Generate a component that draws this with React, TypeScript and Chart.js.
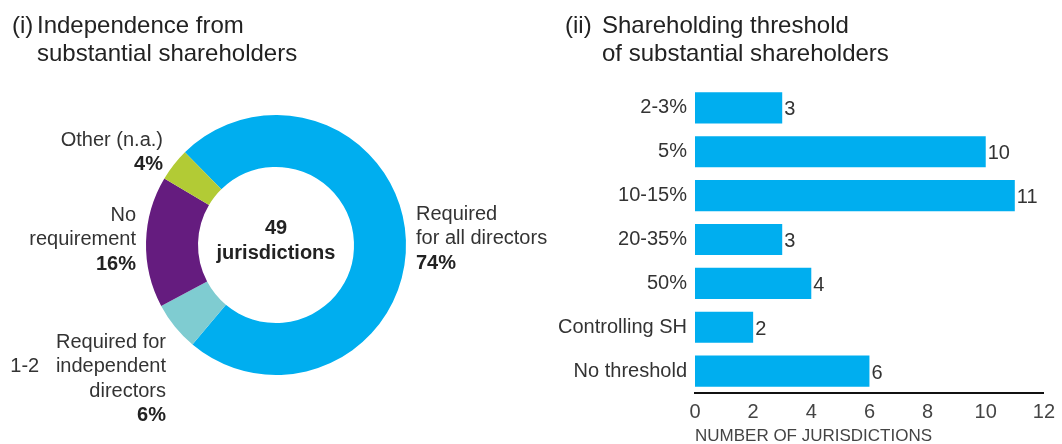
import React, { useEffect, useRef } from "react";
import { Chart, registerables } from "chart.js";

Chart.register(...registerables);

// ---------- data ----------
const donutCategories = [
  "Required for all directors",
  "Required for 1-2 independent directors",
  "No requirement",
  "Other (n.a.)",
];
const donutCounts = [36, 3, 8, 2];
const donutPercents = ["74%", "6%", "16%", "4%"];
const donutLabelLines = [
  ["Required", "for all directors"],
  ["Required for", "1-2   independent", "directors"],
  ["No", "requirement"],
  ["Other (n.a.)"],
];
const donutCenterText = ["49", "jurisdictions"];
const leftTitle = ["(i)", "Independence from", "substantial shareholders"];

const barCategories = ["2-3%", "5%", "10-15%", "20-35%", "50%", "Controlling SH", "No threshold"];
const barValues = [3, 10, 11, 3, 4, 2, 6];
const xAxisTitle = "NUMBER OF JURISDICTIONS";
const rightTitle = ["(ii)", "Shareholding threshold", "of substantial shareholders"];

// ---------- styles ----------
const FONT = "'Liberation Sans', Arial, Helvetica, sans-serif";
const TEXT = "#333333";
const TITLE = "#222222";
const BLUE = "#00AEEF";
const donutColors = [BLUE, "#7FCCD1", "#651C7F", "#B2CB35"];

const LEFT_W = 552;
const RIGHT_W = 510;
const H = 444;

function drawTitle(ctx: CanvasRenderingContext2D, lines: string[], x0: number, x1: number) {
  ctx.save();
  ctx.font = `24px ${FONT}`;
  ctx.fillStyle = TITLE;
  ctx.textAlign = "left";
  ctx.textBaseline = "middle";
  ctx.fillText(lines[0], x0, 26);
  ctx.fillText(lines[1], x1, 26);
  ctx.fillText(lines[2], x1, 54);
  ctx.restore();
}

const donutLabelPlugin = {
  id: "donutLabels",
  afterDraw(chart: any) {
    const ctx = chart.ctx as CanvasRenderingContext2D;
    const arc = chart.getDatasetMeta(0).data[0];
    if (!arc) return;
    const cx = arc.x;
    const cy = arc.y;
    const r = arc.outerRadius;
    // anchors: [x, firstLineY, align]
    const anchors: [number, number, CanvasTextAlign][] = [
      [cx + r + 10, cy - 31, "left"],
      [cx - r + 20, cy + 97, "right"],
      [cx - r - 10, cy - 30, "right"],
      [cx - r + 17, cy - 105, "right"],
    ];
    const step = 24.5;
    ctx.save();
    ctx.textBaseline = "middle";
    anchors.forEach(([x, y0, align], i) => {
      ctx.textAlign = align;
      ctx.fillStyle = TEXT;
      ctx.font = `20px ${FONT}`;
      const lines = donutLabelLines[i];
      lines.forEach((ln, k) => ctx.fillText(ln, x, y0 + k * step));
      ctx.font = `bold 20px ${FONT}`;
      ctx.fillStyle = "#222222";
      ctx.fillText(donutPercents[i], x, y0 + lines.length * step);
    });
    // center
    ctx.textAlign = "center";
    ctx.font = `bold 20px ${FONT}`;
    ctx.fillStyle = "#222222";
    ctx.fillText(donutCenterText[0], cx, cy - 17);
    ctx.fillText(donutCenterText[1], cx, cy + 8);
    drawTitle(ctx, leftTitle, 12, 37);
    ctx.restore();
  },
};

const barLabelPlugin = {
  id: "barLabels",
  afterDatasetsDraw(chart: any) {
    const ctx = chart.ctx as CanvasRenderingContext2D;
    const meta = chart.getDatasetMeta(0);
    ctx.save();
    ctx.font = `20px ${FONT}`;
    ctx.fillStyle = TEXT;
    ctx.textAlign = "left";
    ctx.textBaseline = "middle";
    meta.data.forEach((bar: any, i: number) => {
      ctx.fillText(String(barValues[i]), bar.x + 2, bar.y + 2);
    });
    drawTitle(ctx, rightTitle, 13, 50);
    ctx.restore();
  },
};

export default function App() {
  const leftRef = useRef<HTMLCanvasElement>(null);
  const rightRef = useRef<HTMLCanvasElement>(null);

  useEffect(() => {
    document.body.style.margin = "0";
    const left = new Chart(leftRef.current!, {
      type: "doughnut",
      data: {
        labels: donutCategories,
        datasets: [
          {
            data: donutCounts,
            backgroundColor: donutColors,
            borderWidth: 0,
          },
        ],
      },
      options: {
        responsive: false,
        animation: false,
        cutout: "60%",
        rotation: -44.5,
        layout: { padding: { left: 146, right: 146, top: 115, bottom: 69 } },
        plugins: { legend: { display: false }, tooltip: { enabled: false } },
      },
      plugins: [donutLabelPlugin],
    });

    const right = new Chart(rightRef.current!, {
      type: "bar",
      data: {
        labels: barCategories,
        datasets: [
          {
            data: barValues,
            backgroundColor: BLUE,
            borderWidth: 0,
            categoryPercentage: 1,
            barPercentage: 0.71,
          },
        ],
      },
      options: {
        indexAxis: "y",
        responsive: false,
        animation: false,
        layout: { padding: { left: 0, right: 14, top: 86, bottom: 0 } },
        plugins: { legend: { display: false }, tooltip: { enabled: false } },
        scales: {
          x: {
            min: 0,
            max: 12,
            ticks: {
              stepSize: 2,
              padding: 7,
              color: "#444444",
              font: { family: FONT, size: 20 },
            },
            grid: { display: false, drawTicks: false },
            border: { display: true, color: "#111111", width: 2 },
            title: {
              display: true,
              text: xAxisTitle,
              align: "start",
              color: "#444444",
              font: { family: FONT, size: 17 },
              padding: { top: 0, bottom: -3 },
            },
            afterFit(scale: any) {
              scale.height = 51;
            },
          },
          y: {
            ticks: {
              padding: 8,
              color: TEXT,
              font: { family: FONT, size: 20 },
            },
            grid: { display: false, drawTicks: false },
            border: { display: false },
            afterFit(scale: any) {
              scale.width = 143;
            },
          },
        },
      },
      plugins: [barLabelPlugin],
    });

    return () => {
      left.destroy();
      right.destroy();
    };
  }, []);

  return (
    <div
      style={{
        position: "fixed",
        left: 0,
        top: 0,
        width: 1062,
        height: H,
        background: "#ffffff",
        overflow: "hidden",
      }}
    >
      <canvas
        ref={leftRef}
        width={LEFT_W}
        height={H}
        style={{ position: "absolute", left: 0, top: 0, width: LEFT_W, height: H }}
      />
      <canvas
        ref={rightRef}
        width={RIGHT_W}
        height={H}
        style={{ position: "absolute", left: LEFT_W, top: 0, width: RIGHT_W, height: H }}
      />
    </div>
  );
}
